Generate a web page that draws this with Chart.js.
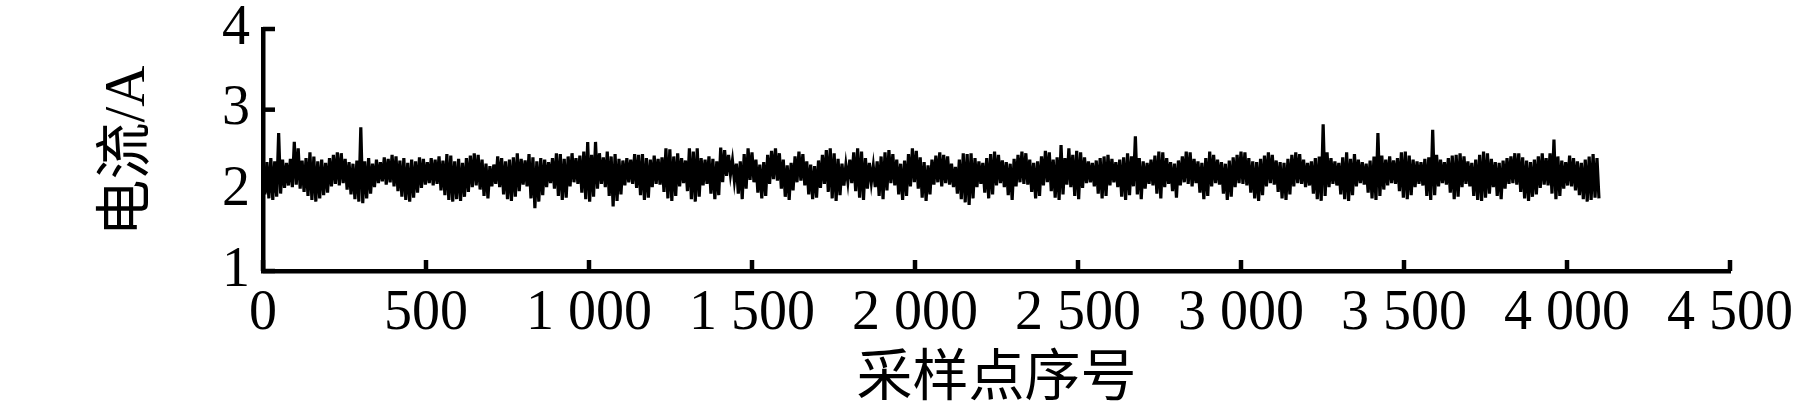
<!DOCTYPE html>
<html>
<head>
<meta charset="utf-8">
<title>电流</title>
<script src="https://cdn.jsdelivr.net/npm/chart.js@4/dist/chart.umd.min.js"></script>
<style>
  html, body { margin: 0; padding: 0; background: #fff; }
  #wrap { width: 1794px; height: 409px; }
</style>
</head>
<body>
<div id="wrap"><canvas id="chart" width="1794" height="409"></canvas></div>
<script>

/* ===================== DATA ===================== */

// peaks and troughs of the current trace
// one peak + one trough per 12 samples
const SAMPLE_STEP = 12;

const peakValues = [
  2.38, 2.35, 2.40, 2.36, 2.71, 2.38, 2.34, 2.39, 2.60, 2.52,
  2.37, 2.40, 2.47, 2.42, 2.36, 2.38, 2.34, 2.40, 2.44, 2.47,
  2.46, 2.39, 2.35, 2.33, 2.37, 2.78, 2.36, 2.40, 2.33, 2.38,
  2.35, 2.41, 2.39, 2.44, 2.42, 2.37, 2.40, 2.34, 2.38, 2.36,
  2.41, 2.39, 2.35, 2.40, 2.38, 2.42, 2.37, 2.45, 2.43, 2.36,
  2.39, 2.34, 2.40, 2.43, 2.46, 2.44, 2.38, 2.33, 2.30, 2.32,
  2.42, 2.40, 2.36, 2.38, 2.41, 2.46, 2.39, 2.37, 2.45, 2.41,
  2.36, 2.40, 2.38, 2.35, 2.40, 2.46, 2.45, 2.39, 2.42, 2.46,
  2.40, 2.43, 2.48, 2.60, 2.44, 2.60, 2.46, 2.41, 2.48, 2.42,
  2.45, 2.39, 2.37, 2.40, 2.38, 2.45, 2.44, 2.45, 2.40, 2.38,
  2.43, 2.39, 2.41, 2.52, 2.51, 2.42, 2.46, 2.40, 2.37, 2.52,
  2.48, 2.52, 2.40, 2.38, 2.42, 2.39, 2.36, 2.53, 2.50, 2.44,
  2.37, 2.33, 2.36, 2.45, 2.52, 2.47, 2.38, 2.32, 2.35, 2.44,
  2.49, 2.52, 2.46, 2.38, 2.31, 2.34, 2.42, 2.48, 2.45, 2.36,
  2.32, 2.30, 2.37, 2.44, 2.50, 2.52, 2.46, 2.39, 2.33, 2.31,
  2.38, 2.47, 2.52, 2.48, 2.40, 2.34, 2.30, 2.36, 2.42, 2.47,
  2.50, 2.45, 2.38, 2.33, 2.37, 2.45, 2.52, 2.49, 2.41, 2.35,
  2.31, 2.38, 2.43, 2.47, 2.44, 2.42, 2.33, 2.29, 2.38, 2.46,
  2.45, 2.46, 2.40, 2.36, 2.34, 2.40, 2.45, 2.48, 2.44, 2.37,
  2.35, 2.33, 2.39, 2.44, 2.48, 2.46, 2.38, 2.34, 2.36, 2.42,
  2.49, 2.47, 2.38, 2.41, 2.56, 2.40, 2.52, 2.44, 2.49, 2.47,
  2.41, 2.36, 2.34, 2.37, 2.40, 2.42, 2.44, 2.39, 2.35, 2.38,
  2.41, 2.46, 2.42, 2.67, 2.40, 2.36, 2.34, 2.38, 2.43, 2.48,
  2.47, 2.40, 2.35, 2.33, 2.37, 2.42, 2.48, 2.47, 2.39, 2.36,
  2.34, 2.40, 2.48, 2.44, 2.38, 2.35, 2.33, 2.37, 2.41, 2.44,
  2.48, 2.47, 2.40, 2.36, 2.35, 2.39, 2.43, 2.47, 2.44, 2.37,
  2.35, 2.34, 2.39, 2.44, 2.47, 2.45, 2.38, 2.34, 2.36, 2.40,
  2.42, 2.82, 2.47, 2.40, 2.36, 2.34, 2.41, 2.47, 2.39, 2.45,
  2.38, 2.35, 2.33, 2.37, 2.42, 2.71, 2.43, 2.38, 2.42, 2.37,
  2.40, 2.47, 2.48, 2.43, 2.38, 2.36, 2.35, 2.39, 2.41, 2.75,
  2.44, 2.38, 2.35, 2.40, 2.43, 2.44, 2.46, 2.42, 2.36, 2.34,
  2.38, 2.44, 2.48, 2.46, 2.39, 2.35, 2.34, 2.37, 2.40, 2.42,
  2.46, 2.46, 2.41, 2.37, 2.35, 2.38, 2.42, 2.46, 2.40, 2.46,
  2.63, 2.42, 2.37, 2.35, 2.43, 2.40, 2.36, 2.34, 2.38, 2.42,
  2.45, 2.40
];

const troughValues = [
  1.95, 1.90, 1.88, 1.92, 1.96, 2.03, 2.06, 2.04, 2.07, 2.02,
  1.98, 1.93, 1.88, 1.86, 1.90, 1.94, 1.97, 2.05, 2.08, 2.06,
  2.09, 2.01, 1.95, 1.89, 1.86, 1.84, 1.90, 1.96, 2.04, 2.09,
  2.11, 2.07, 2.10, 2.05, 1.99, 1.92, 1.88, 1.86, 1.91, 1.97,
  2.03, 2.07, 2.09, 2.06, 2.08, 2.00, 1.94, 1.88, 1.86, 1.89,
  1.87, 1.92, 1.98, 2.04, 2.06, 2.01, 1.93, 1.90, 2.05, 2.08,
  2.04, 1.95, 1.89, 1.87, 1.92, 1.99, 2.07, 2.05, 1.90, 1.78,
  1.86, 1.94, 2.04, 2.09, 2.02, 1.93, 1.88, 1.91, 2.05, 2.10,
  2.08, 1.97, 1.89, 1.86, 1.92, 2.02, 2.08, 2.04, 1.93, 1.80,
  1.87, 1.95, 2.06, 2.10, 2.08, 2.03, 1.94, 1.88, 1.91, 2.04,
  2.08, 2.07, 1.98, 1.90, 1.87, 1.93, 2.05, 2.09, 1.99, 1.89,
  1.86, 1.92, 2.06, 2.08, 1.96, 1.89, 1.94, 2.10, 2.18, 2.20,
  2.12, 1.96, 1.89, 2.02, 2.13, 2.10, 1.97, 1.90, 1.93, 2.08,
  2.14, 2.12, 2.02, 1.92, 1.88, 2.00, 2.10, 2.12, 2.06, 1.95,
  1.89, 1.91, 2.03, 2.08, 1.98, 1.90, 1.87, 1.94, 2.06, 2.11,
  2.09, 1.99, 1.91, 1.88, 2.02, 2.10, 2.04, 1.93, 1.89, 2.00,
  2.09, 2.06, 1.95, 1.88, 1.93, 2.05, 2.10, 2.02, 1.91, 1.87,
  1.95, 2.07, 2.10, 2.05, 2.09, 2.07, 2.04, 1.96, 1.89, 1.85,
  1.82, 1.90, 2.04, 2.08, 1.97, 1.90, 1.95, 2.06, 2.09, 2.04,
  1.94, 1.88, 2.05, 2.10, 2.08, 2.07, 1.98, 1.90, 1.93, 2.06,
  2.10, 1.99, 1.91, 1.88, 1.95, 2.07, 2.04, 1.93, 1.89, 2.03,
  2.09, 2.10, 2.05, 1.96, 1.90, 1.93, 2.06, 2.10, 2.04, 1.92,
  1.88, 1.94, 2.05, 1.95, 1.89, 2.02, 2.08, 2.06, 1.96, 1.90,
  2.04, 2.08, 1.99, 1.91, 2.06, 2.10, 2.08, 2.05, 2.09, 1.97,
  1.89, 1.93, 2.05, 2.09, 2.07, 1.96, 1.88, 1.92, 2.04, 2.09,
  2.08, 2.06, 1.97, 1.90, 1.87, 1.94, 2.05, 2.09, 2.07, 1.98,
  1.90, 1.88, 1.95, 2.05, 2.09, 2.08, 2.04, 2.06, 1.96, 1.89,
  1.87, 1.93, 2.04, 2.08, 2.06, 1.95, 1.89, 1.87, 1.94, 2.05,
  2.09, 2.07, 1.97, 1.90, 1.88, 1.93, 2.01, 2.06, 2.09, 2.08,
  1.99, 1.91, 1.89, 1.94, 2.04, 2.08, 2.06, 1.93, 1.88, 1.94,
  2.05, 2.09, 2.07, 1.97, 1.89, 1.92, 2.04, 2.08, 2.05, 1.93,
  1.88, 1.87, 1.91, 1.96, 2.04, 1.93, 1.89, 2.02, 2.08, 2.09,
  2.07, 1.98, 1.90, 1.87, 1.92, 1.95, 2.03, 2.07, 2.06, 1.96,
  1.89, 1.93, 2.02, 2.06, 2.05, 2.00, 1.94, 1.89, 1.86, 1.88,
  1.91, 1.90
];

const xTickValues = [0, 500, 1000, 1500, 2000, 2500, 3000, 3500, 4000, 4500];
const yTickValues = [1, 2, 3, 4];

const xTitle = "采样点序号";
const yTitle = "电流/A";

/* ===================== BUILD SERIES ===================== */

const trace = [];
const nPairs = Math.min(peakValues.length, troughValues.length);
for (let k = 0; k < nPairs; k++) {
  trace.push({ x: k * SAMPLE_STEP, y: peakValues[k] });
  trace.push({ x: k * SAMPLE_STEP + SAMPLE_STEP / 2, y: troughValues[k] });
}

/* ===================== HELPERS ===================== */

const SERIF = '"Liberation Serif", "Times New Roman", serif';
const MIXED = '"Liberation Serif", "Noto Sans CJK SC", serif';

function groupThousands(v) {
  return String(v).replace(/\B(?=(\d{3})+(?!\d))/g, " ");
}

// ticks point into the plot, axis titles drawn by hand
const inwardTicks = {
  id: "inwardTicks",
  afterDraw(chart) {
    const { ctx, chartArea, scales } = chart;
    const x = scales.x, y = scales.y;

    ctx.save();
    ctx.strokeStyle = "#000";
    ctx.lineWidth = 4.5;

    x.ticks.forEach(t => {
      const px = x.getPixelForValue(t.value);
      ctx.beginPath();
      ctx.moveTo(px, chartArea.bottom);
      ctx.lineTo(px, chartArea.bottom - 11);
      ctx.stroke();
    });

    y.ticks.forEach(t => {
      const py = y.getPixelForValue(t.value);
      ctx.beginPath();
      ctx.moveTo(chartArea.left, py);
      ctx.lineTo(chartArea.left + 12, py);
      ctx.stroke();
    });

    ctx.fillStyle = "#000";
    ctx.textAlign = "center";
    ctx.textBaseline = "middle";
    ctx.font = "56px " + MIXED;
    ctx.fillText(xTitle, (chartArea.left + chartArea.right) / 2, 380);

    ctx.font = "57px " + MIXED;
    ctx.translate(129, 151);
    ctx.rotate(-Math.PI / 2);
    ctx.fillText(yTitle, 0, 0);
    ctx.restore();
  }
};

/* ===================== CHART ===================== */

new Chart(document.getElementById("chart"), {
  type: "line",
  data: {
    datasets: [{
      data: trace,
      borderColor: "#000",
      borderWidth: 3.2,
      pointRadius: 0,
      tension: 0,
      fill: false
    }]
  },
  options: {
    responsive: false,
    animation: false,
    layout: { padding: { left: 0, right: 64, top: 29, bottom: 0 } },
    plugins: {
      legend: { display: false },
      tooltip: { enabled: false }
    },
    scales: {
      x: {
        type: "linear",
        min: 0,
        max: 4500,
        afterBuildTicks: s => { s.ticks = xTickValues.map(v => ({ value: v })); },
        afterFit: s => { s.height = 138; s.paddingLeft = 0; s.paddingRight = 0; },
        grid: { display: false, drawTicks: false },
        border: { display: true, color: "#000", width: 4.5 },
        ticks: {
          autoSkip: false,
          maxRotation: 0,
          padding: 10,
          color: "#000",
          font: { family: SERIF, size: 56 },
          callback: v => groupThousands(v)
        }
      },
      y: {
        type: "linear",
        min: 1,
        max: 4,
        afterBuildTicks: s => { s.ticks = yTickValues.map(v => ({ value: v })); },
        afterFit: s => { s.width = 263; s.paddingTop = 0; s.paddingBottom = 0; },
        grid: { display: false, drawTicks: false },
        border: { display: true, color: "#000", width: 4.5 },
        ticks: {
          padding: 13,
          color: "#000",
          font: { family: SERIF, size: 56 }
        }
      }
    }
  },
  plugins: [inwardTicks]
});

</script>
</body>
</html>
